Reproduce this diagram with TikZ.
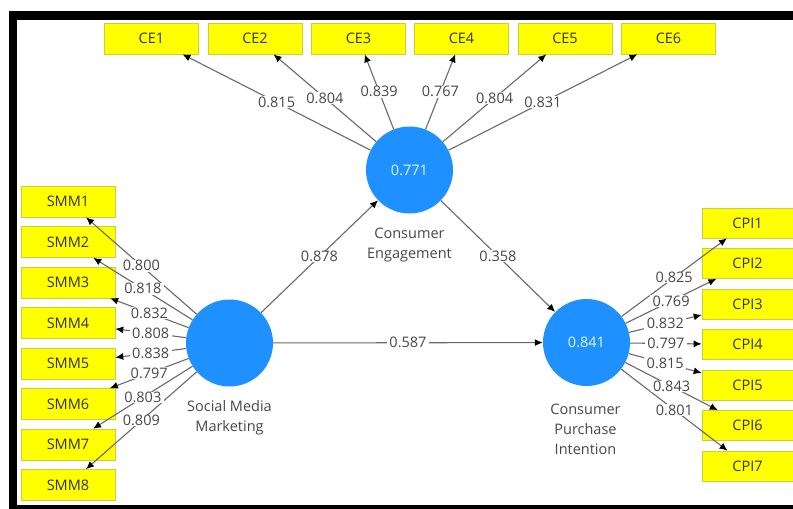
\documentclass[tikz,border=0pt]{standalone}
\usepackage{fontspec}
\setmainfont{Open Sans}
\usetikzlibrary{arrows.meta}
\definecolor{lvblue}{RGB}{30,144,255}
\definecolor{mvyellow}{RGB}{255,255,0}
\definecolor{mvborder}{RGB}{205,205,60}
\definecolor{txtgrey}{RGB}{70,70,70}
\definecolor{linegrey}{RGB}{105,105,105}
\begin{document}
\begin{tikzpicture}[x=1pt,y=-1pt,
  font=\fontsize{14.5}{17}\selectfont,
  ind/.style={draw=mvborder, fill=mvyellow, line width=0.6pt, minimum width=94pt,
    minimum height=31pt, inner sep=0pt, text=black!80},
  lv/.style={circle, fill=lvblue, minimum size=87pt, inner sep=0pt, text=white!88!lvblue},
  load/.style={draw=linegrey, line width=1.1pt, -{Latex[length=8pt,width=7pt,black]}},
  lbl/.style={fill=white, inner xsep=2.5pt, inner ysep=0.5pt, text=txtgrey},
  lvname/.style={align=center, text=txtgrey, font=\fontsize{14.5}{20}\selectfont}]
\useasboundingbox (0,0) rectangle (793,509);
\clip (0,0) rectangle (793,509);
% frame
\fill[black] (9,11) rectangle (793,20);
\fill[black] (9,11) rectangle (17,509);
\fill[black] (9,505) rectangle (793,509);
% latent variables
\node[lv] (ce) at (409.5,170) {0.771};
\node[lv] (smm) at (229.5,343) {};
\node[lv] (cpi) at (586.5,342.5) {0.841};
\node[lvname] (cename) at (409.5,245) {Consumer\\Engagement};
\node[lvname] (smmname) at (229.5,418) {Social Media\\Marketing};
\node[lvname] (cpiname) at (585.5,429) {Consumer\\Purchase\\Intention};
% indicators
\foreach \n/\x in {1/151.5,2/255,3/358.5,4/461.5,5/565,6/668.5}
  \node[ind] (ce\n) at (\x,38.5) {CE\n};
\foreach \n in {1,...,8}
  \node[ind] (smm\n) at (68,{201.5+40.5*(\n-1)}) {SMM\n};
\foreach \n in {1,...,7}
  \node[ind, minimum width=91pt, minimum height=30pt] (cpi\n) at (747.5,{223+40.5*(\n-1)}) {CPI\n};
% lines
\foreach \n in {1,...,6} \draw[load] (ce) -- (ce\n);
\foreach \n in {1,...,8} \draw[load] (smm) -- (smm\n);
\foreach \n in {1,...,7} \draw[load] (cpi) -- (cpi\n);
\draw[load] (smm) -- (ce);
\draw[load] (ce) -- (cpi);
\draw[load] (smm) -- (cpi);
% labels
\foreach \n/\v in {1/0.815,2/0.804,3/0.839,4/0.767,5/0.804,6/0.831}
  \path (ce) -- node[lbl] {\v} (ce\n);
\foreach \n/\v in {1/0.800,2/0.818,3/0.832,4/0.808,5/0.838,6/0.797,7/0.803,8/0.809}
  \path (smm) -- node[lbl] {\v} (smm\n);
\foreach \n/\v in {1/0.825,2/0.769,3/0.832,4/0.797,5/0.815,6/0.843,7/0.801}
  \path (cpi) -- node[lbl] {\v} (cpi\n);
\path (smm) -- node[lbl] {0.878} (ce);
\path (ce) -- node[lbl] {0.358} (cpi);
\path (smm) -- node[lbl] {0.587} (cpi);
\end{tikzpicture}
\end{document}
